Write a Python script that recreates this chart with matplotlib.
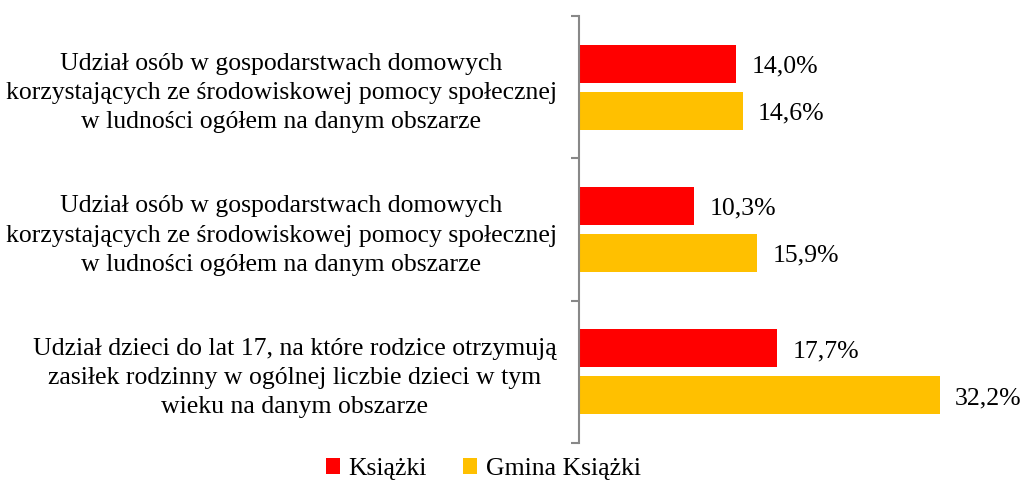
import matplotlib
matplotlib.use("Agg")
import matplotlib.pyplot as plt
import numpy as np

categories = [
    "Udział osób w gospodarstwach domowych\nkorzystających ze środowiskowej pomocy społecznej\nw ludności ogółem na danym obszarze",
    "Udział osób w gospodarstwach domowych\nkorzystających ze środowiskowej pomocy społecznej\nw ludności ogółem na danym obszarze",
    "Udział dzieci do lat 17, na które rodzice otrzymują\nzasiłek rodzinny w ogólnej liczbie dzieci w tym\nwieku na danym obszarze",
]
series_names = ["Książki", "Gmina Książki"]
ksiazki = [14.0, 10.3, 17.7]
gmina = [14.6, 15.9, 32.2]
colors = ["#FF0000", "#FFC000"]

plt.rcParams['font.family'] = ['Liberation Serif', 'DejaVu Serif']
FS = 18.5

fig = plt.figure(figsize=(10.22, 4.84), dpi=100)
ax = fig.add_axes([579/1022, 1-443/484, (1010-579)/1022, (443-16)/484])

y = np.arange(len(categories))
h = 0.268
off = 0.165
b1 = ax.barh(y - off, ksiazki, height=h, color=colors[0], label=series_names[0])
b2 = ax.barh(y + off, gmina, height=h, color=colors[1], label=series_names[1])

for bars, vals in ((b1, ksiazki), (b2, gmina)):
    for bar, v in zip(bars, vals):
        ax.annotate(f"{v:.1f}%".replace(".", ","),
                    xy=(bar.get_width(), bar.get_y() + bar.get_height()/2),
                    xytext=(11, -2), textcoords="offset points",
                    ha="left", va="center", fontsize=FS, color="#000000")

ax.set_xlim(0, (1010-579)/11.21)
ax.set_ylim(len(categories) - 0.5, -0.5)

ax.set_yticks(np.arange(-0.5, len(categories)), labels=[])
ax.set_yticks(y, labels=categories, minor=True)
ax.tick_params(axis='y', which='major', length=6, color='#888888', width=1.5, direction='out')
ax.tick_params(axis='y', which='minor', length=0, pad=16, labelsize=FS)
for lab in ax.get_yticklabels(minor=True):
    lab.set_multialignment('center')
    lab.set_linespacing(1.42)

ax.set_xticks([])
for s in ('top', 'right', 'bottom'):
    ax.spines[s].set_visible(False)
ax.spines['left'].set_color('#888888')
ax.spines['left'].set_linewidth(1.5)

fig.legend(handles=[b1, b2], labels=series_names, loc='center',
           bbox_to_anchor=(0.473, 15/484), ncol=2, frameon=False, fontsize=FS,
           handlelength=0.55, handleheight=0.55, handletextpad=0.35, columnspacing=1.4)

fig.savefig("out.png", dpi=100)
